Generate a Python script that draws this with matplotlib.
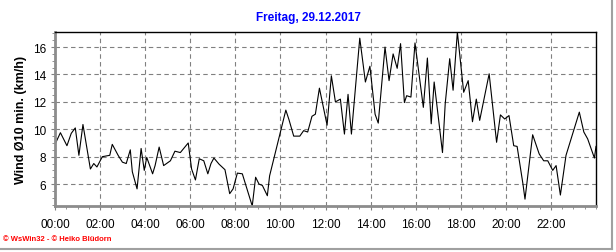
import matplotlib.pyplot as plt
from matplotlib.lines import Line2D
from matplotlib.ticker import MultipleLocator

plt.rcParams['font.family'] = ['Liberation Sans', 'DejaVu Sans']

# --- data (hour of day, wind 10 min mean in km/h) ---
hours = [0.00, 0.24, 0.53, 0.72, 0.90, 1.06, 1.24, 1.57, 1.72, 1.86,
         2.10, 2.43, 2.54, 2.80, 2.99, 3.16, 3.34, 3.43, 3.64, 3.82,
         3.96, 4.07, 4.33, 4.44, 4.62, 4.82, 5.12, 5.32, 5.56, 5.91,
         6.06, 6.23, 6.40, 6.60, 6.78, 6.92, 7.05, 7.28, 7.54, 7.75,
         7.90, 8.09, 8.31, 8.75, 8.90, 9.05, 9.20, 9.42, 9.52, 10.24,
         10.38, 10.59, 10.86, 11.03, 11.21, 11.40, 11.55, 11.73, 12.07, 12.26,
         12.44, 12.66, 12.84, 13.00, 13.15, 13.52, 13.77, 13.97, 14.20, 14.34,
         14.64, 14.82, 15.00, 15.18, 15.33, 15.50, 15.60, 15.79, 15.97, 16.34,
         16.52, 16.69, 16.82, 17.19, 17.31, 17.51, 17.66, 17.85, 18.13, 18.33,
         18.52, 18.69, 18.84, 19.26, 19.59, 19.76, 19.95, 20.14, 20.35, 20.50,
         20.76, 20.85, 21.19, 21.48, 21.68, 21.86, 22.08, 22.23, 22.42, 22.67,
         23.26, 23.46, 23.63, 23.93, 24.00]
wind = [8.9, 9.75, 8.8, 9.7, 10.1, 8.1, 10.35, 7.1, 7.5, 7.25,
        8.0, 8.1, 8.9, 8.1, 7.6, 7.5, 8.5, 6.9, 5.65, 8.6,
        7.0, 7.95, 6.75, 7.35, 8.7, 7.35, 7.7, 8.4, 8.3, 9.0,
        7.1, 6.3, 7.85, 7.7, 6.75, 7.5, 7.9, 7.45, 7.05, 5.3,
        5.65, 6.8, 6.75, 4.4, 6.5, 6.0, 5.9, 5.15, 6.6, 11.4,
        10.7, 9.5, 9.5, 9.9, 9.8, 10.95, 11.1, 13.0, 10.3, 13.9,
        12.0, 12.2, 9.65, 12.55, 9.65, 16.65, 13.45, 14.6, 11.1, 10.45,
        16.0, 13.55, 15.5, 14.45, 16.25, 11.95, 12.45, 12.35, 16.3, 11.6,
        15.2, 10.4, 13.45, 8.3, 11.85, 15.15, 12.85, 17.1, 12.7, 13.55,
        10.55, 12.2, 10.65, 14.05, 9.05, 11.05, 10.75, 11.0, 8.8, 8.75,
        6.0, 4.9, 9.6, 8.2, 7.7, 7.7, 7.0, 7.35, 5.2, 8.1,
        11.25, 9.8, 9.3, 7.9, 8.75]

title = 'Freitag, 29.12.2017'
ylabel = 'Wind \u00d810 min. (km/h)'
xticks = list(range(0, 24, 2))
xlabels = ['%02d:00' % h for h in xticks]
yticks = [6, 8, 10, 12, 14, 16]

fig = plt.figure(figsize=(6.16, 2.53), dpi=100)
ax = fig.add_axes([55 / 616, 1 - 207 / 253, 541 / 616, 174 / 253])

ax.plot(hours, wind, color='black', lw=0.8)

ax.set_xlim(0, 24)
ax.set_ylim(4.4, 17.1)
ax.set_xticks(xticks)
ax.set_xticklabels(xlabels)
ax.set_yticks(yticks)
ax.xaxis.set_minor_locator(MultipleLocator(0.5))
ax.yaxis.set_minor_locator(MultipleLocator(0.5))
ax.tick_params(which='both', direction='out', color='#808080', labelsize=8.5)
ax.tick_params(which='major', length=3)
ax.tick_params(which='minor', length=2)
ax.tick_params(axis='x', pad=6)

ax.grid(True, which='major', color='#808080', ls=(0, (4, 3)), lw=0.8)

for s in ['left', 'bottom']:
    ax.spines[s].set_color('#8c8c8c')
    ax.spines[s].set_linewidth(2)
for s in ['top', 'right']:
    ax.spines[s].set_color('black')
    ax.spines[s].set_linewidth(1)

ax.set_ylabel(ylabel, fontsize=9, fontweight='bold', labelpad=4)
fig.text(0.5, 1 - 18 / 253, title, color='#0000ff', fontsize=8.5,
         fontweight='bold', ha='center', va='center')
fig.text(3 / 616, 1 - 240 / 253, '\u00a9 WsWin32 - \u00a9 Heiko Bl\u00fcdorn',
         color='red', fontsize=5.5, fontweight='bold', ha='left', va='center')

# light frame on right and bottom of the image
fig.add_artist(Line2D([612 / 616, 612 / 616], [1 - 250 / 253, 1], color='#a0a0a0', lw=1.5))
fig.add_artist(Line2D([0, 612 / 616], [1 - 250 / 253, 1 - 250 / 253], color='#a0a0a0', lw=1.5))

fig.savefig('out.png', dpi=100)
